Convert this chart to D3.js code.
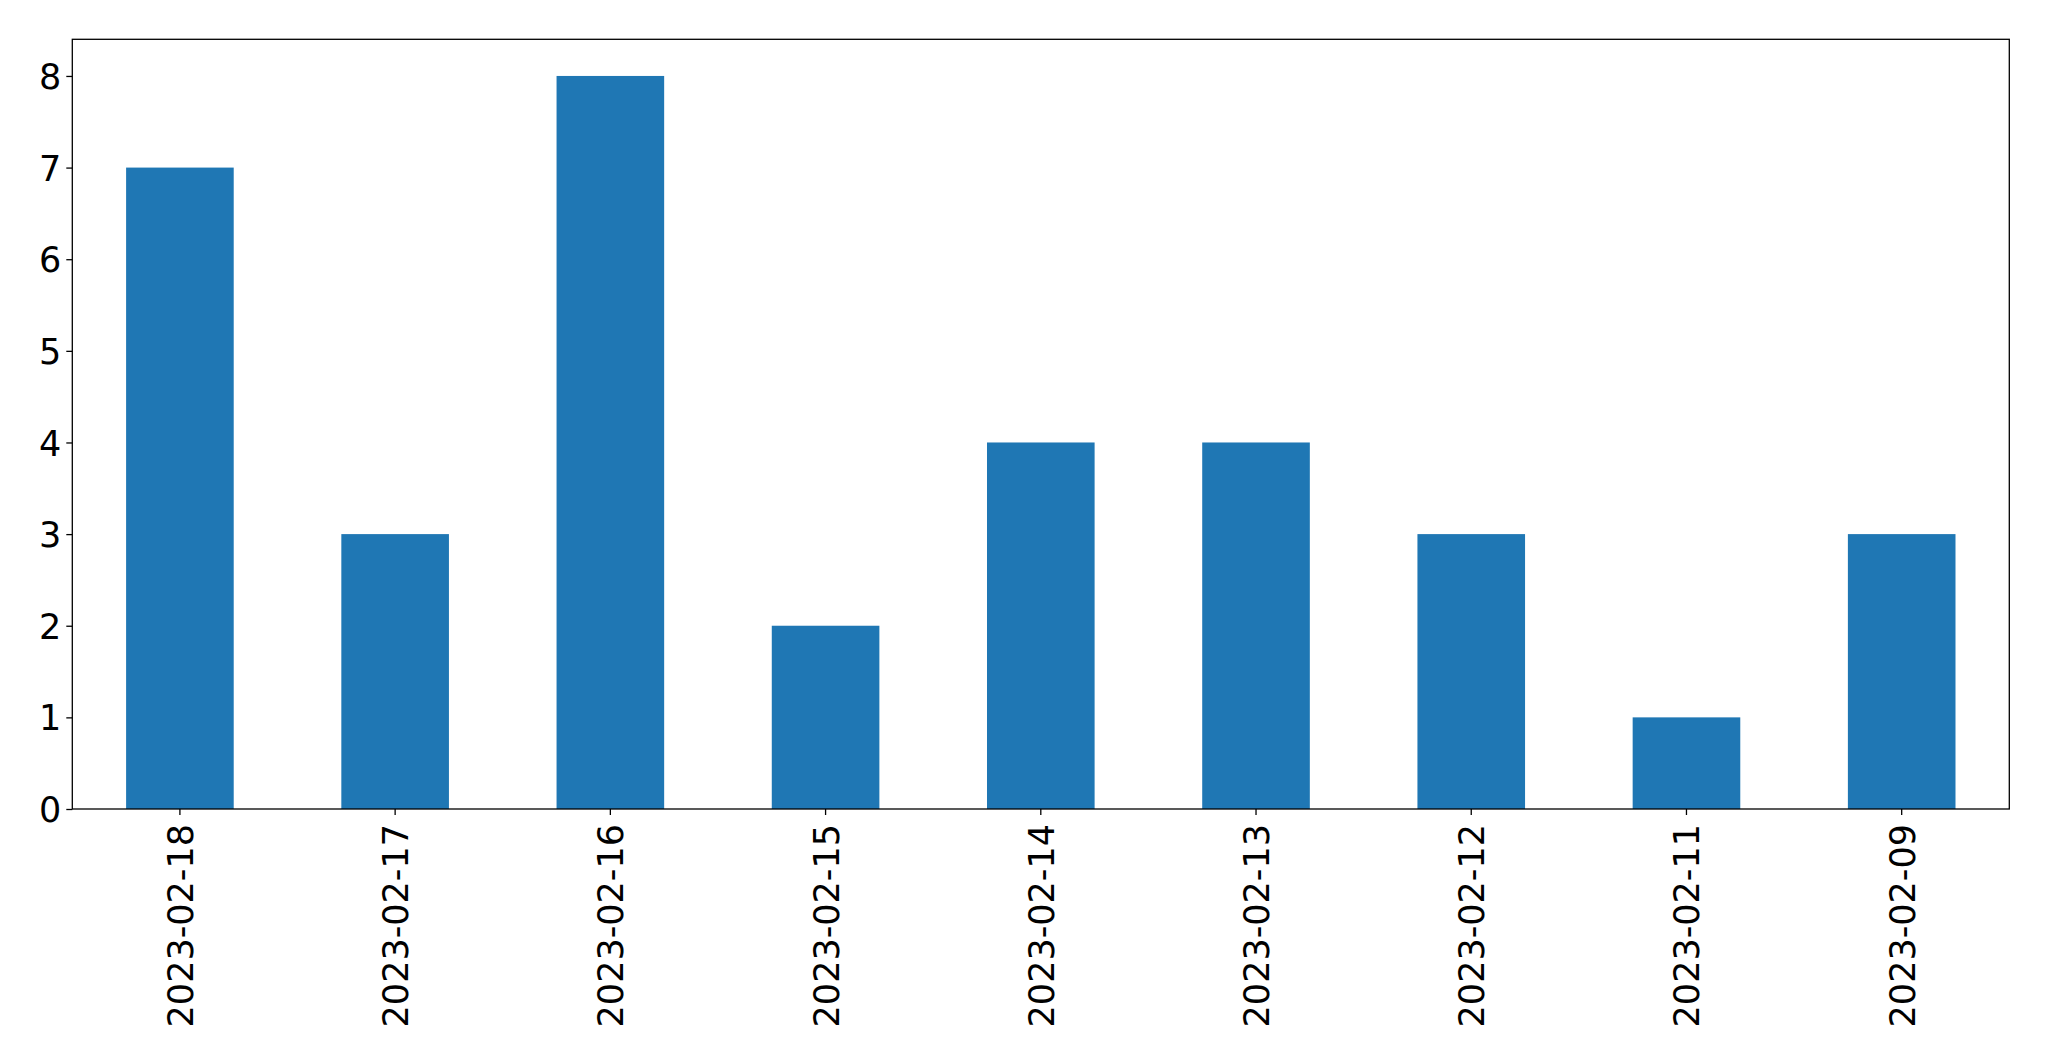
<!DOCTYPE html>
<html><head><meta charset="utf-8">
<script src="https://cdn.jsdelivr.net/npm/d3@7"></script>
<style>body{margin:0;background:#fff}svg{display:block}</style>
</head><body>
<script>
const categories = ["2023-02-18","2023-02-17","2023-02-16","2023-02-15","2023-02-14","2023-02-13","2023-02-12","2023-02-11","2023-02-09"];
const values = [7,3,8,2,4,4,3,1,3];
const yTicks = [0,1,2,3,4,5,6,7,8];

const W = 2049, H = 1061;
const m = {left:72.3, right:2049-2009.3, top:39.3, bottom:1061-809};
const svg = d3.select("body").append("svg").attr("width",W).attr("height",H);
const x = d3.scaleBand().domain(categories).range([m.left, W-m.right]).paddingInner(0.5).paddingOuter(0.25);
const y = d3.scaleLinear().domain([0, 8.4]).range([H-m.bottom, m.top]);
const font = "DejaVu Sans, sans-serif";
const fs = 35;

svg.append("g").selectAll("rect").data(values).join("rect")
  .attr("x",(d,i)=>x(categories[i])).attr("width",x.bandwidth())
  .attr("y",d=>y(d)).attr("height",d=>y(0)-y(d)).attr("fill","#1f77b4");

// y axis
const ya = svg.append("g").attr("transform",`translate(${m.left},0)`)
  .call(d3.axisLeft(y).tickValues(yTicks).tickFormat(d3.format("d")).tickSize(6).tickPadding(5));
ya.select(".domain").remove();
ya.selectAll("line").attr("stroke","#000").attr("stroke-width",1.3);
ya.selectAll("text").attr("font-family",font).attr("font-size",fs).attr("fill","#000").attr("dy","0.36em");

// x axis
const xa = svg.append("g").attr("transform",`translate(0,${H-m.bottom})`)
  .call(d3.axisBottom(x).tickSize(6).tickPadding(0));
xa.select(".domain").remove();
xa.selectAll("line").attr("stroke","#000").attr("stroke-width",1.3);
xa.selectAll("text").attr("font-family",font).attr("font-size",fs).attr("fill","#000")
  .attr("text-anchor","end").attr("y",0).attr("dy",0)
  .attr("transform","translate(13,15) rotate(-90)");

// frame
svg.append("rect").attr("x",m.left).attr("y",m.top)
  .attr("width",W-m.left-m.right).attr("height",H-m.top-m.bottom)
  .attr("fill","none").attr("stroke","#000").attr("stroke-width",1.3);
</script>
</body></html>
